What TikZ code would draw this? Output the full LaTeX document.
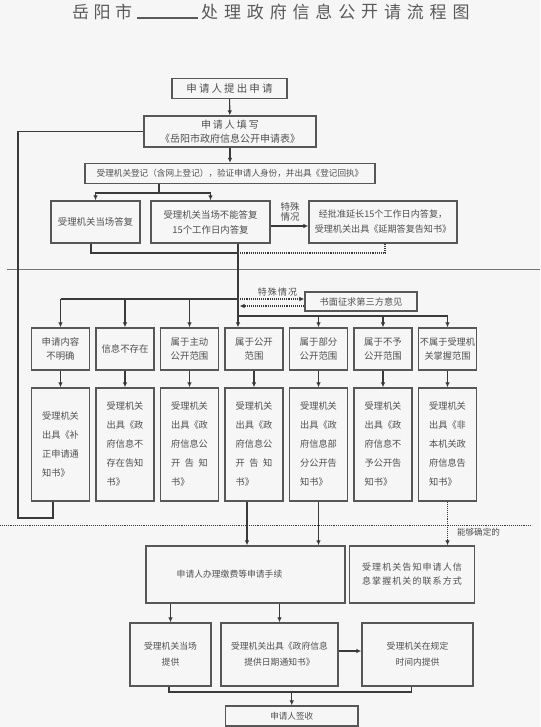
\documentclass[tikz,border=0pt]{standalone}
\usepackage{fontspec}
\setmainfont{Noto Sans CJK SC}
\newfontfamily\spacedA[LetterSpace=20]{Noto Sans CJK SC}
\newfontfamily\spacedB[LetterSpace=12]{Noto Sans CJK SC}
\usetikzlibrary{arrows.meta}
\definecolor{bg}{HTML}{F6F6F6}
\definecolor{ln}{HTML}{3A3A3A}
\definecolor{bx}{HTML}{575757}
\definecolor{tx}{HTML}{505050}
\definecolor{ttl}{HTML}{5A5A5A}
\newcommand\fsz[2]{\fontsize{#1}{#2}\selectfont}
\begin{document}
\begin{tikzpicture}[x=1pt,y=-1pt,
  box/.style={draw=bx, line width=1.3pt, text=tx, inner sep=0pt, align=center},
  wh/.style 2 args={minimum width=#1pt, minimum height=#2pt},
  conn/.style={draw=ln, line width=1.1pt},
  arr/.style={conn, -{Latex[length=5pt,width=4.5pt]}},
  dots/.style={densely dotted},
  lbl/.style={text=tx, inner sep=0pt, align=center},
  r5/.style={box, wh={58}{42}, font=\fsz{9.4}{14}},
  r6/.style={box, wh={58}{113}, font=\fsz{9.2}{19}, align=left},
  r8/.style={box, font=\fsz{8.8}{16}},
  ]
\fill[bg] (0,0) rectangle (540,727);
\useasboundingbox (0,0) rectangle (540,727);

% title
\foreach \c [count=\i] in {岳,阳,市}
  \node[font=\fsz{17}{18}, text=ttl, inner sep=0pt] (ta\i) at ({80.7+21.5*(\i-1)},12) {\c};
\foreach \c [count=\i] in {处,理,政,府,信,息,公,开,请,流,程,图}
  \node[font=\fsz{17}{18}, text=ttl, inner sep=0pt] (tb\i) at ({209.7+22.85*(\i-1)},12) {\c};
\coordinate (u1) at (137,18);
\coordinate (u2) at (198,18);
\draw[ttl, line width=1.1pt] (u1) -- (u2);

% top part
\node[box, wh={115}{20}, font=\fsz{10.5}{12}] (b1) at (229.5,88.5) {\spacedA 申请人提出申请};
\node[box, wh={172}{31}, font=\fsz{10}{14}] (b2) at (230,131.5) {{\spacedA 申请人填写}\\《岳阳市政府信息公开申请表》};
\node[box, wh={290}{20}, font=\fsz{8.6}{10}] (b3) at (230,173.5) {受理机关登记（含网上登记），验证申请人身份，并出具《登记回执》};
\node[box, wh={89}{42}, font=\fsz{9.4}{15}] (b4a) at (95.5,222) {受理机关当场答复};
\node[box, wh={119}{42}, font=\fsz{9.4}{15}] (b4b) at (210.5,222) {受理机关当场不能答复\\15个工作日内答复};
\node[box, wh={148}{42}, font=\fsz{9.1}{15}] (b4c) at (383,222) {经批准延长15个工作日内答复，\\受理机关出具《延期答复告知书》};
\node[lbl, font=\fsz{9.5}{10.5}] (tsqk) at (290,212) {特殊\\情况};

\draw[arr] (b1) -- (b2);
\draw[arr] (b2) -- (b3);
\coordinate (br) at (159,193);
\draw[conn] (b3.south -| br) -- (br);
\draw[arr] (br) -| (b4a);
\draw[arr] (br) -| (b4b);
\draw[arr] ([yshift=-4pt]b4b.east) -- ([yshift=-4pt]b4c.west);

\coordinate (m1) at (91,253);
\coordinate (m2) at (238,253);
\coordinate (m3) at (385,253);
\draw[conn] (b4a.south -| m1) -- (m1) -- (m2);
\draw[conn, dots] (m2) -- (m3) -- (b4c.south -| m3);

% separator
\coordinate (s1) at (7,269);
\coordinate (s2) at (540,269);
\draw[ln!70, line width=0.6pt] (s1) -- (s2);

% row 5
\node[r5] (A5) at (60.5,349) {申请内容\\不明确};
\node[r5] (B5) at (125,349) {信息不存在};
\node[r5] (C5) at (189.5,349) {属于主动\\公开范围};
\node[r5] (D5) at (254,349) {属于公开\\范围};
\node[r5] (E5) at (318.5,349) {属于部分\\公开范围};
\node[r5] (F5) at (383,349) {属于不予\\公开范围};
\node[r5, font=\fsz{9.2}{14}] (G5) at (447.5,349) {不属于受理机\\关掌握范围};

\node[box, wh={112}{19}, font=\fsz{9.2}{10}] (W) at (361,301.5) {书面征求第三方意见};
\node[lbl, font=\fsz{9}{10}] (tsqk2) at (277.5,292) {\spacedB 特殊情况};

\coordinate (h1) at (238,299);
\coordinate (h2) at (238,316);
\draw[arr] (b4b.south -| h1) -- (D5.north -| h1);
\draw[conn] (A5.north |- h1) -- (h1);
\draw[arr] (A5.north |- h1) -- (A5.north);
\draw[arr] (B5.north |- h1) -- (B5.north);
\draw[arr] (C5.north |- h1) -- (C5.north);
\draw[arr, dots] (h1) -- (W.west |- h1);
\coordinate (w2) at ([yshift=-4.5pt]W.west);
\draw[arr, dots, shorten >=1.5pt] (w2) -- (w2 -| h1);
\draw[conn] (h2) -- (G5.north |- h2);
\draw[arr] (E5.north |- h2) -- (E5.north);
\draw[arr] (F5.north |- h2) -- (F5.north);
\draw[arr] (G5.north |- h2) -- (G5.north);

% row 6
\node[r6] (A6) at (60.5,444.5) {受理机关\\出具《补\\正申请通\\知书》};
\node[r6] (B6) at (125,444.5) {受理机关\\出具《政\\府信息不\\存在告知\\书》};
\node[r6] (C6) at (189.5,444.5) {受理机关\\出具《政\\府信息公\\\makebox[4em][s]{开\hfil 告\hfil 知}\\书》};
\node[r6] (D6) at (254,444.5) {受理机关\\出具《政\\府信息公\\\makebox[4em][s]{开\hfil 告\hfil 知}\\书》};
\node[r6] (E6) at (318.5,444.5) {受理机关\\出具《政\\府信息部\\分公开告\\知书》};
\node[r6] (F6) at (383,444.5) {受理机关\\出具《政\\府信息不\\予公开告\\知书》};
\node[r6] (G6) at (447.5,444.5) {受理机关\\出具《非\\本机关政\\府信息告\\知书》};

\foreach \n in {A,B,C,D,E,F,G}
  \draw[arr] (\n5) -- (\n6);

% loop back
\coordinate (lp) at (18,518);
\draw[conn] ([xshift=-7.5pt]A6.south) |- (lp) |- (b2.west);

% dotted separator
\coordinate (d1) at (0,525);
\coordinate (d2) at (532,525);
\draw[ln, line width=0.9pt, densely dotted] (d1) -- (d2);

% lower part
\node[box, wh={199}{57}, font=\fsz{8.8}{12}] (b7) at (245.5,574.5) {申请人办理缴费等申请手续\hspace*{32pt}};
\node[box, wh={124.5}{57}, font=\fsz{9}{14}] (b8) at (412,574.5) {\spacedB 受理机关告知申请人信\\\spacedB 息掌握机关的联系方式};
\node[lbl, font=\fsz{8.6}{10}] (ngqd) at (478.5,532) {能够确定的};

\draw[arr] ([xshift=-7pt]D6.south) -- ([xshift=-7pt]D6.south |- b7.north);
\draw[arr] (E6.south) -- (E6.south |- b7.north);
\draw[arr, dots] (G6.south) -- (G6.south |- b8.north);

\node[r8, wh={81}{63}] (H8) at (170.5,654.5) {受理机关当场\\提供};
\node[r8, wh={117}{63}] (I8) at (279.5,654.5) {受理机关出具《政府信息\\提供日期通知书》};
\node[r8, wh={111}{63}] (J8) at (417.5,654.5) {受理机关在规定\\时间内提供};
\node[box, wh={132.5}{20}, font=\fsz{8.6}{10}] (K) at (291.75,716) {申请人签收};

\draw[arr] (b7.south -| H8) -- (H8);
\draw[arr] (b7.south -| I8) -- (I8);
\draw[arr] ([yshift=3.5pt]I8.east) -- ([yshift=3.5pt]J8.west);
\coordinate (k1) at (169,692);
\coordinate (k2) at (411.5,692);
\draw[conn] (H8.south -| k1) |- (k2) -- (J8.south -| k2);
\draw[arr] (K.north |- k1) -- (K.north);
\end{tikzpicture}
\end{document}
